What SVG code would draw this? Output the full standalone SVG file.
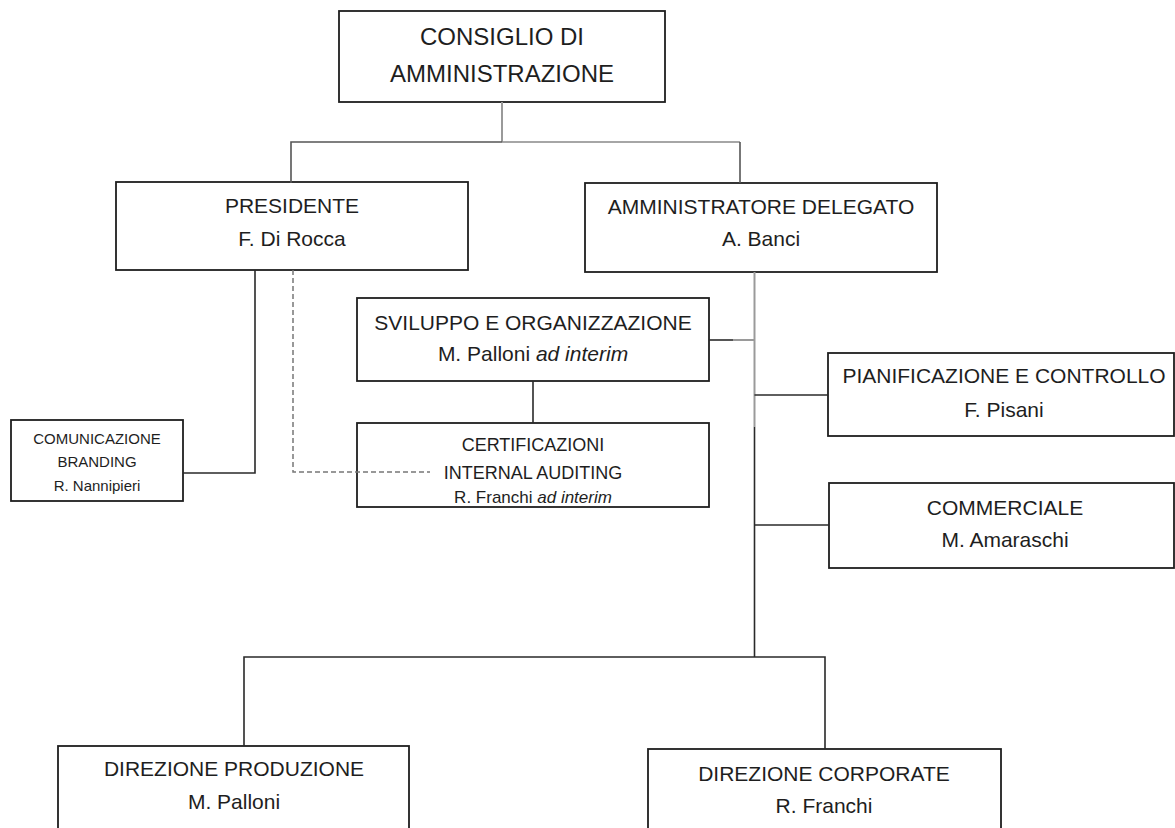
<svg xmlns="http://www.w3.org/2000/svg" width="1175" height="828" viewBox="0 0 1175 828">
<style>
.box{fill:#fff;stroke:#1e1e1e;stroke-width:1.8}
text{font-family:"Liberation Sans",Arial,sans-serif;fill:#1e1e1e;text-anchor:middle}
.t24{font-size:24px}
.t21{font-size:21px}
.t18{font-size:18px}
.t17{font-size:17px}
.t15{font-size:15px}
.ln{fill:none;stroke:#2a2a2a;stroke-width:1.6}
.lg{fill:none;stroke:#9a9a9a;stroke-width:2}
.dash{fill:none;stroke:#777;stroke-width:1.5;stroke-dasharray:5 3}
</style>
<rect width="1175" height="828" fill="#fff"/>
<g id="consiglio">
<rect class="box" x="339" y="11" width="326" height="91"/>
<text class="t24" x="502" y="45">CONSIGLIO DI</text>
<text class="t24" x="502" y="82">AMMINISTRAZIONE</text>
</g>
<g id="presidente">
<rect class="box" x="116" y="182" width="352" height="88"/>
<text class="t21" x="292" y="213">PRESIDENTE</text>
<text class="t21" x="292" y="246">F. Di Rocca</text>
</g>
<g id="amministratore">
<rect class="box" x="585" y="183" width="352" height="89"/>
<text class="t21" x="761" y="214">AMMINISTRATORE DELEGATO</text>
<text class="t21" x="761" y="246">A. Banci</text>
</g>
<g id="sviluppo">
<rect class="box" x="357" y="298" width="352" height="83"/>
<text class="t21" x="533" y="330">SVILUPPO E ORGANIZZAZIONE</text>
<text class="t21" x="533" y="361">M. Palloni <tspan font-style="italic">ad interim</tspan></text>
</g>
<g id="certificazioni">
<rect class="box" x="357" y="423" width="352" height="84"/>
<text class="t18" x="533" y="451">CERTIFICAZIONI</text>
<text class="t18" x="533" y="479">INTERNAL AUDITING</text>
<text class="t17" x="533" y="503">R. Franchi <tspan font-style="italic">ad interim</tspan></text>
</g>
<g id="comunicazione">
<rect class="box" x="11" y="420" width="172" height="81"/>
<text class="t15" x="97" y="444">COMUNICAZIONE</text>
<text class="t15" x="97" y="467">BRANDING</text>
<text class="t15" x="97" y="491">R. Nannipieri</text>
</g>
<g id="pianificazione">
<rect class="box" x="828" y="353" width="346" height="83"/>
<text class="t21" x="1004" y="383">PIANIFICAZIONE E CONTROLLO</text>
<text class="t21" x="1004" y="417">F. Pisani</text>
</g>
<g id="commerciale">
<rect class="box" x="829" y="483" width="345" height="85"/>
<text class="t21" x="1005" y="515">COMMERCIALE</text>
<text class="t21" x="1005" y="547">M. Amaraschi</text>
</g>
<g id="produzione">
<rect class="box" x="58" y="746" width="351" height="100"/>
<text class="t21" x="234" y="776">DIREZIONE PRODUZIONE</text>
<text class="t21" x="234" y="809">M. Palloni</text>
</g>
<g id="corporate">
<rect class="box" x="648" y="749" width="353" height="100"/>
<text class="t21" x="824" y="781">DIREZIONE CORPORATE</text>
<text class="t21" x="824" y="813">R. Franchi</text>
</g>
<g id="connectors">
<path class="lg" d="M502 102V142"/>
<path class="ln" d="M291 183V142H502" style="stroke:#555"/>
<path class="lg" d="M502 142H740" style="stroke:#888;stroke-width:1.6"/>
<path class="ln" d="M740 142V183" style="stroke:#555"/>
<path class="ln" d="M255 270V473H183"/>
<path class="dash" d="M293 270V472H430"/>
<path class="ln" d="M533 381V423"/>
<path class="ln" d="M709 340H733"/>
<path class="lg" d="M733 340H754.5"/>
<path class="lg" d="M754.5 272V427"/>
<path class="ln" d="M754.5 427V657"/>
<path class="ln" d="M754.5 395H828"/>
<path class="ln" d="M754.5 525H829"/>
<path class="ln" d="M244 746V657H825V749"/>
</g>
</svg>
